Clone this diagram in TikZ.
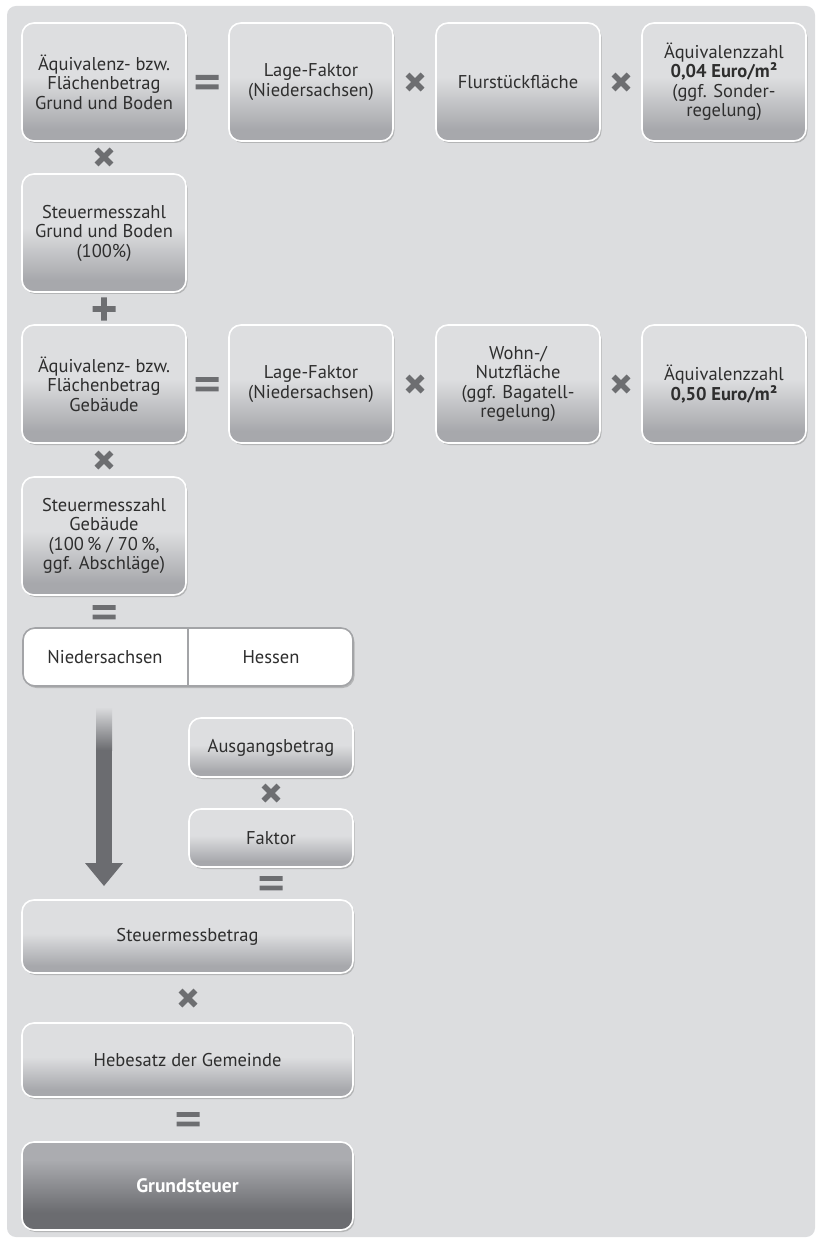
\documentclass[tikz,border=0pt]{standalone}
\usepackage{fontspec}
\setmainfont{PT Sans}
\usetikzlibrary{shadows}
\definecolor{bg}{HTML}{DCDDDF}
\definecolor{boxtop}{HTML}{DDDEE0}
\definecolor{boxbot}{HTML}{A7A8AC}
\definecolor{opcol}{HTML}{6D6E71}
\definecolor{txt}{HTML}{2E2E2E}
\definecolor{darktop}{HTML}{ABACB0}
\definecolor{darkbot}{HTML}{6B6C70}
\definecolor{splitline}{HTML}{A3A4A7}
\pgfdeclareverticalshading{boxshade}{100bp}{color(0bp)=(boxbot); color(30bp)=(boxbot); color(52bp)=(boxtop); color(100bp)=(boxtop)}
\pgfdeclareverticalshading{darkshade}{100bp}{color(0bp)=(darkbot); color(35bp)=(darkbot); color(65bp)=(darktop); color(100bp)=(darktop)}
\begin{document}
\begin{tikzpicture}[x=1pt,y=-1pt,
  shad/.style={drop shadow={shadow xshift=1.5pt, shadow yshift=-2pt, opacity=0.18, fill=black}},
  box/.style={rounded corners=12pt, draw=white, line width=1.6pt, shading=boxshade, text=txt, align=center,
    minimum width=164pt, minimum height=118pt, inner sep=2pt, font=\fontsize{18.5}{19.5}\selectfont, shad},
  widebox/.style={box, minimum width=331pt},
  darkbox/.style={widebox, shading=darkshade, text=white, font=\fontsize{19.5}{20}\selectfont\bfseries},
  splitbox/.style={rounded corners=12pt, draw=splitline, line width=1.6pt, fill=white, minimum width=330pt,
    minimum height=58pt, shad},
  optext/.style={text=txt, font=\fontsize{18.5}{19.5}\selectfont},
  op/.style={minimum size=26pt, inner sep=0pt},
  timesop/.style={op, path picture={\draw[opcol, line width=5.5pt, shift={(path picture bounding box.center)}] (-7.5,-7.5) -- (7.5,7.5) (-7.5,7.5) -- (7.5,-7.5);}},
  eqop/.style={op, path picture={\fill[opcol, shift={(path picture bounding box.center)}] (-11.5,-7) rectangle (11.5,-2.2) (-11.5,2.5) rectangle (11.5,7.3);}},
  plusop/.style={op, path picture={\fill[opcol, shift={(path picture bounding box.center)}] (-11.5,-2.8) rectangle (11.5,2.8) (-2.8,-11.5) rectangle (2.8,11.5);}}
]
\useasboundingbox (0,0) rectangle (815,1238);
\fill[bg, rounded corners=9pt] (7,6) rectangle (815,1237);

% row 1
\node[box] (a1) at (104,82) {Äquivalenz- bzw.\\Flächenbetrag\\Grund und Boden};
\node[box] (b1) at (311,82) {Lage-Faktor\\(Niedersachsen)};
\node[box] (c1) at (518,82) {Flurstückfläche};
\node[box] (d1) at (724,82) {Äquivalenzzahl\\\textbf{0,04 Euro/m²}\\(ggf. Sonder-\\regelung)};
\node[eqop] (e1) at (207,82) {};
\node[timesop] (t1) at (415,82) {};
\node[timesop] (t2) at (621,82) {};

\node[timesop] (t3) at (104,157) {};
\node[box] (a2) at (104,233) {Steuermesszahl\\Grund und Boden\\(100\%)};
\node[plusop] (p1) at (104,309) {};

% row 2
\node[box] (a3) at (104,384) {Äquivalenz- bzw.\\Flächenbetrag\\Gebäude};
\node[box] (b3) at (311,384) {Lage-Faktor\\(Niedersachsen)};
\node[box] (c3) at (518,384) {Wohn-/\\Nutzfläche\\(ggf. Bagatell-\\regelung)};
\node[box] (d3) at (724,384) {Äquivalenzzahl\\\textbf{0,50 Euro/m²}};
\node[eqop] (e2) at (207,384) {};
\node[timesop] (t4) at (415,384) {};
\node[timesop] (t5) at (621,384) {};

\node[timesop] (t6) at (104,460) {};
\node[box] (a4) at (104,536) {Steuermesszahl\\Gebäude\\(100\,\% / 70\,\%,\\ggf. Abschläge)};
\node[eqop] (e3) at (104,612) {};

% split box
\node[splitbox] (sp) at (188,657) {};
\draw[splitline, line width=2pt] (sp.north) -- (sp.south);
\node[optext] (ns) at (105,657) {Niedersachsen};
\node[optext] (he) at (271,657) {Hessen};

% big arrow
\coordinate (artop) at (104,707);
\coordinate (artip) at (104,886);
\shade[top color=bg, bottom color=darkbot] ([xshift=-8pt]artop) rectangle ([xshift=8pt,yshift=-43pt]artop);
\fill[darkbot] ([xshift=-8pt,yshift=-42.5pt]artop) rectangle ([xshift=8pt,yshift=23pt]artip);
\fill[darkbot] ([xshift=-19pt,yshift=23pt]artip) -- ([xshift=19pt,yshift=23pt]artip) -- (artip) -- cycle;

% right chain
\node[box, minimum height=59pt] (ab) at (271,747.5) {Ausgangsbetrag};
\node[timesop] (t7) at (271,793) {};
\node[box, minimum height=58pt] (fk) at (271,838) {Faktor};
\node[eqop] (e4) at (271,883) {};

% bottom
\node[widebox, minimum height=73pt] (smb) at (187.5,936.5) {Steuermessbetrag};
\node[timesop] (t8) at (188,998) {};
\node[widebox, minimum height=74pt] (hs) at (187.5,1060) {Hebesatz der Gemeinde};
\node[eqop] (e5) at (188,1119) {};
\node[darkbox, minimum height=88pt] (gs) at (187.5,1186) {Grundsteuer};
\end{tikzpicture}
\end{document}
